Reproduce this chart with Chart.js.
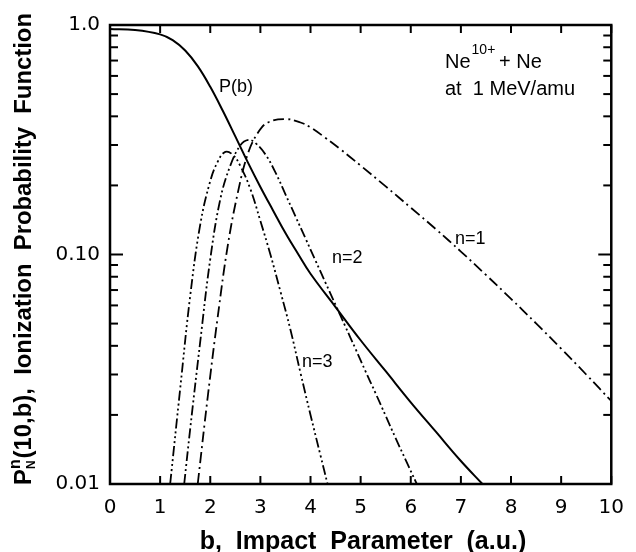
<!DOCTYPE html>
<html>
<head>
<meta charset="utf-8">
<script src="https://cdn.jsdelivr.net/npm/chart.js@4/dist/chart.umd.min.js"></script>
<style>
    body { margin: 0; background: #fff; }
    #wrap { width: 636px; height: 552px; }
</style>
</head>
<body>
<div id="wrap"><canvas id="chart" width="636" height="552"></canvas></div>
<script>
// ===== DATOS =====
// P(b)
const bP = [0, 0.5, 1.0, 1.25, 1.5, 1.75, 2.0, 2.25, 2.5, 2.75, 3.0, 3.25, 3.5, 3.75, 4.0, 4.5, 5.0, 5.5, 6.0, 6.5, 7.0, 7.43];
const vP = [0.960, 0.950, 0.910, 0.859, 0.774, 0.662, 0.538, 0.423, 0.327, 0.252, 0.197, 0.156, 0.124, 0.1007, 0.0824, 0.059, 0.0423, 0.031, 0.0227, 0.0169, 0.0126, 0.010];
// n=1
const bN1 = [1.75, 1.95, 2.15, 2.35, 2.55, 2.75, 2.95, 3.15, 3.50, 3.80, 4.00, 4.30, 4.60, 5.00, 5.50, 6.00, 6.50, 7.00, 7.50, 8.00, 8.50, 9.00, 9.50, 10.0];
const vN1 = [0.010, 0.024, 0.0537, 0.1096, 0.186, 0.275, 0.339, 0.376, 0.389, 0.376, 0.358, 0.322, 0.287, 0.244, 0.198, 0.160, 0.129, 0.103, 0.0815, 0.0641, 0.0501, 0.0389, 0.030, 0.023];
// n=2
const bN2 = [1.48, 1.60, 1.80, 2.00, 2.20, 2.40, 2.60, 2.76, 2.90, 3.10, 3.30, 3.50, 3.70, 3.90, 4.10, 4.30, 4.50, 4.70, 4.90, 5.10, 5.30, 5.50, 5.70, 5.90, 6.12];
const vN2 = [0.010, 0.0174, 0.0417, 0.0955, 0.174, 0.244, 0.299, 0.316, 0.306, 0.273, 0.228, 0.183, 0.1466, 0.1175, 0.094, 0.0753, 0.0603, 0.0483, 0.0387, 0.0309, 0.0248, 0.0198, 0.0158, 0.0127, 0.010];
// n=3
const bN3 = [1.20, 1.40, 1.60, 1.80, 2.00, 2.15, 2.30, 2.45, 2.60, 2.80, 3.00, 3.20, 3.40, 3.60, 3.80, 4.00, 4.20, 4.34];
const vN3 = [0.010, 0.026, 0.066, 0.135, 0.209, 0.254, 0.280, 0.272, 0.243, 0.193, 0.140, 0.100, 0.069, 0.047, 0.0305, 0.020, 0.0133, 0.010];

// ticks
const xTicks = [0, 1, 2, 3, 4, 5, 6, 7, 8, 9, 10];
const yTicks = [0.01, 0.02, 0.03, 0.04, 0.05, 0.06, 0.07, 0.08, 0.09, 0.1, 0.2, 0.3, 0.4, 0.5, 0.6, 0.7, 0.8, 0.9, 1.0];
const yMajor = [0.01, 0.1, 1.0];
const yLabels = ['0.01', '0.10', '1.0'];

const pts = (xs, ys) => xs.map((x, i) => ({ x: x, y: ys[i] }));

// ===== MARCO Y MARCAS HACIA DENTRO =====
const frameTicks = {
    id: 'frameTicks',
    afterDatasetsDraw(chart) {
        const { ctx, chartArea: a, scales: { x, y } } = chart;
        const line = (x1, y1, x2, y2) => { ctx.beginPath(); ctx.moveTo(x1, y1); ctx.lineTo(x2, y2); ctx.stroke(); };
        ctx.save();
        ctx.strokeStyle = '#000';
        ctx.lineWidth = 2;
        xTicks.forEach(v => {
            const px = x.getPixelForValue(v);
            line(px, a.bottom, px, a.bottom - 8);
            line(px, a.top, px, a.top + 8);
        });
        yTicks.forEach(v => {
            const py = y.getPixelForValue(v);
            const len = yMajor.includes(v) ? 13 : 8;
            line(a.left, py, a.left + len, py);
            line(a.right, py, a.right - len, py);
        });
        ctx.lineWidth = 2.5;
        ctx.strokeRect(a.left, a.top, a.right - a.left, a.bottom - a.top);
        ctx.restore();
    }
};

// ===== TEXTOS =====
const labels = {
    id: 'labels',
    afterDraw(chart) {
        const { ctx } = chart;
        ctx.save();
        ctx.fillStyle = '#000';
        ctx.textBaseline = 'alphabetic';

        // titulo eje x
        ctx.font = 'bold 25px "Liberation Sans", Arial, sans-serif';
        ctx.textAlign = 'center';
        ctx.fillText('b,  Impact  Parameter  (a.u.)', 363, 549);

        // titulo eje y (girado, con super/subindices)
        const fMain = 'bold 24px "Liberation Sans", Arial, sans-serif';
        const fSup = 'bold 16px "Liberation Sans", Arial, sans-serif';
        const fSub = 'bold 12px "Liberation Sans", Arial, sans-serif';
        const rest = '(10,b),  Ionization  Probability  Function';
        ctx.font = fMain;
        const wP = ctx.measureText('P').width;
        const wR = ctx.measureText(rest).width;
        ctx.font = fSup;
        const wS = ctx.measureText('n').width + 1;
        const total = wP + wS + wR;
        const sc = 472 / total;
        ctx.translate(31, 249);
        ctx.rotate(-Math.PI / 2);
        ctx.scale(sc, 1);
        ctx.textAlign = 'left';
        let cx = -total / 2;
        ctx.font = fMain;
        ctx.fillText('P', cx, 0);
        cx += wP;
        ctx.font = fSup;
        ctx.fillText('n', cx, -11);
        ctx.font = fSub;
        ctx.fillText('N', cx, 4);
        cx += wS;
        ctx.font = fMain;
        ctx.fillText(rest, cx, 0);
        ctx.setTransform(1, 0, 0, 1, 0, 0);

        // anotaciones
        ctx.textAlign = 'left';
        ctx.font = '18px "Liberation Sans", Arial, sans-serif';
        ctx.fillText('P(b)', 219, 92);
        ctx.fillText('n=1', 455, 244);
        ctx.fillText('n=2', 332, 263);
        ctx.fillText('n=3', 302, 367);
        ctx.font = '20px "Liberation Sans", Arial, sans-serif';
        ctx.fillText('Ne', 445, 68);
        const wNe = ctx.measureText('Ne').width;
        ctx.fillText('+ Ne', 499, 68);
        ctx.fillText('at  1 MeV/amu', 445, 95);
        ctx.font = '14px "Liberation Sans", Arial, sans-serif';
        ctx.fillText('10+', 445 + wNe + 1, 54);
        ctx.restore();
    }
};

// ===== CHART =====
const common = { borderColor: '#000', pointRadius: 0, fill: false, tension: 0.4 };
new Chart(document.getElementById('chart').getContext('2d'), {
    type: 'line',
    data: {
        datasets: [
            { ...common, label: 'P(b)', data: pts(bP, vP), borderWidth: 2 },
            { ...common, label: 'n=1', data: pts(bN1, vN1), borderWidth: 1.8, borderDash: [11, 4, 2, 4] },
            { ...common, label: 'n=2', data: pts(bN2, vN2), borderWidth: 1.8, borderDash: [10, 3, 2, 3, 2, 3] },
            { ...common, label: 'n=3', data: pts(bN3, vN3), borderWidth: 1.8, borderDash: [10, 3, 2, 3, 2, 3, 2, 3] }
        ]
    },
    options: {
        responsive: false,
        animation: false,
        layout: { padding: { top: 25, right: 13, left: 0, bottom: 0 } },
        plugins: { legend: { display: false }, tooltip: { enabled: false } },
        scales: {
            x: {
                type: 'linear', min: 0, max: 10,
                afterBuildTicks: s => { s.ticks = xTicks.map(v => ({ value: v })); },
                afterFit: s => { s.height = 68; },
                grid: { display: false, drawTicks: false },
                border: { display: false },
                ticks: { autoSkip: false, maxRotation: 0, padding: 12, color: '#000', font: { family: '"DejaVu Sans"', size: 20 } }
            },
            y: {
                type: 'logarithmic', min: 0.01, max: 1.0,
                afterBuildTicks: s => { s.ticks = yTicks.map(v => ({ value: v })); },
                afterFit: s => { s.width = 110; },
                grid: { display: false, drawTicks: false },
                border: { display: false },
                ticks: {
                    autoSkip: false, padding: 10, color: '#000',
                    font: { family: '"DejaVu Sans"', size: 20 },
                    callback: v => { const i = yMajor.indexOf(v); return i >= 0 ? yLabels[i] : ''; }
                }
            }
        }
    },
    plugins: [frameTicks, labels]
});
</script>
</body>
</html>
